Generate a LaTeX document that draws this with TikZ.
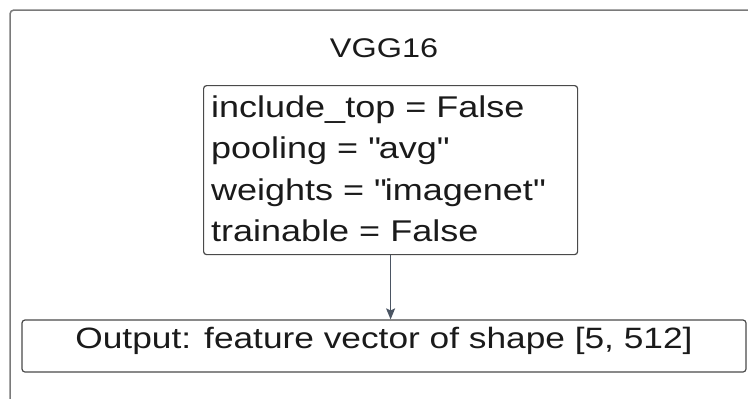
\documentclass[tikz,border=0pt]{standalone}
\usepackage{fontspec}
\setmainfont{Liberation Sans}[FakeStretch=1.2, Ligatures=TeXOff]
\usetikzlibrary{arrows.meta}

\definecolor{framegray}{HTML}{7A7A7A}
\definecolor{boxgray}{HTML}{4A4A4A}
\definecolor{arrowgray}{HTML}{4B5563}
\definecolor{ink}{HTML}{1A1A1A}

\tikzset{
  boxstyle/.style={draw=boxgray, line width=1.2pt, rounded corners=3pt, inner sep=0pt},
  paramline/.style={anchor=base west, inner sep=0pt, text=ink, font=\fontsize{30}{36}\selectfont},
  titlestyle/.style={anchor=base, inner sep=0pt, text=ink, font=\fontsize{27}{32}\selectfont},
  outstyle/.style={boxstyle, anchor=base, text=ink, font=\fontsize{29.4}{35}\selectfont,
    text height=28.3pt, text depth=23.7pt, minimum width=724pt},
  flow/.style={draw=arrowgray, line width=1.3pt, -{Stealth[length=11pt, width=9pt, inset=2pt]}}
}

\begin{document}
\begin{tikzpicture}[x=1pt, y=-1pt]
  \useasboundingbox (0,0) rectangle (748,399);
  \clip (0,0) rectangle (748,399);

  % outer frame, running past the right and bottom edges
  \draw[framegray, line width=1.5pt, rounded corners=4pt] (780,10) -- (10,10) -- (10,430);

  % title
  \node[titlestyle] (title) at (384,57.3) {VGG16};

  % parameter box and its lines
  \node[boxstyle, minimum width=374pt, minimum height=169pt, anchor=north west] (params) at (203,85) {};
  \node[paramline] (p1) at (211,117.3) {include\_top = False};
  \node[paramline] (p2) at (211,158.8) {pooling = \textquotedbl avg\textquotedbl};
  \node[paramline] (p3) at (211,200.3) {weights = \textquotedbl imagenet\textquotedbl};
  \node[paramline] (p4) at (211,241.8) {trainable = False};

  % output box
  \node[outstyle] (output) at (384,348.3) {Output: feature vector of shape [5, 512]};

  % connector
  \draw[flow] (params.south) -- (params.south |- output.north);
\end{tikzpicture}
\end{document}
